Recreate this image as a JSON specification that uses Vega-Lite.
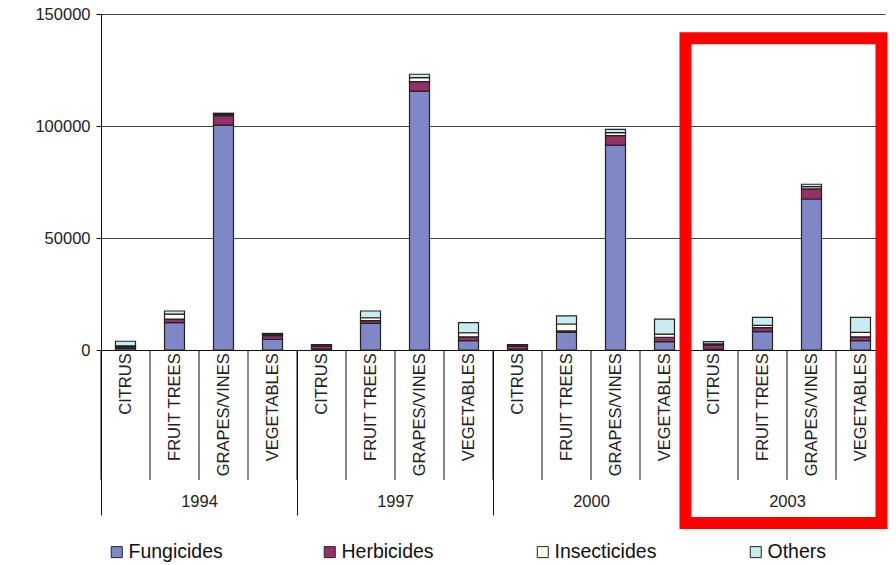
{
  "$schema": "https://vega.github.io/schema/vega-lite/v6.json",
  "autosize": {"type": "none"},
  "padding": {"left": 101, "top": 14, "right": 11, "bottom": 215},
  "width": 784,
  "height": 336,
  "config": {
    "font": "Liberation Sans",
    "view": {"stroke": null},
    "axis": {"labelFont": "Liberation Sans", "labelColor": "#222", "labelFontSize": 16.5}
  },
  "datasets": {
    "sales": [
      {"year": "1994", "crop": "CITRUS", "type": "Fungicides", "value": 700},
      {"year": "1994", "crop": "CITRUS", "type": "Herbicides", "value": 700},
      {"year": "1994", "crop": "CITRUS", "type": "Insecticides", "value": 500},
      {"year": "1994", "crop": "CITRUS", "type": "Others", "value": 2000},
      {"year": "1994", "crop": "FRUIT TREES", "type": "Fungicides", "value": 12200},
      {"year": "1994", "crop": "FRUIT TREES", "type": "Herbicides", "value": 1600},
      {"year": "1994", "crop": "FRUIT TREES", "type": "Insecticides", "value": 2200},
      {"year": "1994", "crop": "FRUIT TREES", "type": "Others", "value": 1400},
      {"year": "1994", "crop": "GRAPES/VINES", "type": "Fungicides", "value": 100400},
      {"year": "1994", "crop": "GRAPES/VINES", "type": "Herbicides", "value": 4200},
      {"year": "1994", "crop": "GRAPES/VINES", "type": "Insecticides", "value": 600},
      {"year": "1994", "crop": "GRAPES/VINES", "type": "Others", "value": 500},
      {"year": "1994", "crop": "VEGETABLES", "type": "Fungicides", "value": 4800},
      {"year": "1994", "crop": "VEGETABLES", "type": "Herbicides", "value": 1600},
      {"year": "1994", "crop": "VEGETABLES", "type": "Insecticides", "value": 600},
      {"year": "1994", "crop": "VEGETABLES", "type": "Others", "value": 400},
      {"year": "1997", "crop": "CITRUS", "type": "Fungicides", "value": 400},
      {"year": "1997", "crop": "CITRUS", "type": "Herbicides", "value": 1400},
      {"year": "1997", "crop": "CITRUS", "type": "Insecticides", "value": 300},
      {"year": "1997", "crop": "CITRUS", "type": "Others", "value": 300},
      {"year": "1997", "crop": "FRUIT TREES", "type": "Fungicides", "value": 11900},
      {"year": "1997", "crop": "FRUIT TREES", "type": "Herbicides", "value": 1200},
      {"year": "1997", "crop": "FRUIT TREES", "type": "Insecticides", "value": 1300},
      {"year": "1997", "crop": "FRUIT TREES", "type": "Others", "value": 3000},
      {"year": "1997", "crop": "GRAPES/VINES", "type": "Fungicides", "value": 115600},
      {"year": "1997", "crop": "GRAPES/VINES", "type": "Herbicides", "value": 4200},
      {"year": "1997", "crop": "GRAPES/VINES", "type": "Insecticides", "value": 1800},
      {"year": "1997", "crop": "GRAPES/VINES", "type": "Others", "value": 1500},
      {"year": "1997", "crop": "VEGETABLES", "type": "Fungicides", "value": 4200},
      {"year": "1997", "crop": "VEGETABLES", "type": "Herbicides", "value": 1700},
      {"year": "1997", "crop": "VEGETABLES", "type": "Insecticides", "value": 1800},
      {"year": "1997", "crop": "VEGETABLES", "type": "Others", "value": 4500},
      {"year": "2000", "crop": "CITRUS", "type": "Fungicides", "value": 300},
      {"year": "2000", "crop": "CITRUS", "type": "Herbicides", "value": 1500},
      {"year": "2000", "crop": "CITRUS", "type": "Insecticides", "value": 300},
      {"year": "2000", "crop": "CITRUS", "type": "Others", "value": 300},
      {"year": "2000", "crop": "FRUIT TREES", "type": "Fungicides", "value": 7900},
      {"year": "2000", "crop": "FRUIT TREES", "type": "Herbicides", "value": 600},
      {"year": "2000", "crop": "FRUIT TREES", "type": "Insecticides", "value": 3100},
      {"year": "2000", "crop": "FRUIT TREES", "type": "Others", "value": 3600},
      {"year": "2000", "crop": "GRAPES/VINES", "type": "Fungicides", "value": 91500},
      {"year": "2000", "crop": "GRAPES/VINES", "type": "Herbicides", "value": 4200},
      {"year": "2000", "crop": "GRAPES/VINES", "type": "Insecticides", "value": 1300},
      {"year": "2000", "crop": "GRAPES/VINES", "type": "Others", "value": 1500},
      {"year": "2000", "crop": "VEGETABLES", "type": "Fungicides", "value": 3700},
      {"year": "2000", "crop": "VEGETABLES", "type": "Herbicides", "value": 2000},
      {"year": "2000", "crop": "VEGETABLES", "type": "Insecticides", "value": 1400},
      {"year": "2000", "crop": "VEGETABLES", "type": "Others", "value": 6700},
      {"year": "2003", "crop": "CITRUS", "type": "Fungicides", "value": 300},
      {"year": "2003", "crop": "CITRUS", "type": "Herbicides", "value": 2000},
      {"year": "2003", "crop": "CITRUS", "type": "Insecticides", "value": 400},
      {"year": "2003", "crop": "CITRUS", "type": "Others", "value": 1000},
      {"year": "2003", "crop": "FRUIT TREES", "type": "Fungicides", "value": 8200},
      {"year": "2003", "crop": "FRUIT TREES", "type": "Herbicides", "value": 1800},
      {"year": "2003", "crop": "FRUIT TREES", "type": "Insecticides", "value": 1000},
      {"year": "2003", "crop": "FRUIT TREES", "type": "Others", "value": 3600},
      {"year": "2003", "crop": "GRAPES/VINES", "type": "Fungicides", "value": 67400},
      {"year": "2003", "crop": "GRAPES/VINES", "type": "Herbicides", "value": 4500},
      {"year": "2003", "crop": "GRAPES/VINES", "type": "Insecticides", "value": 1000},
      {"year": "2003", "crop": "GRAPES/VINES", "type": "Others", "value": 1100},
      {"year": "2003", "crop": "VEGETABLES", "type": "Fungicides", "value": 4200},
      {"year": "2003", "crop": "VEGETABLES", "type": "Herbicides", "value": 1700},
      {"year": "2003", "crop": "VEGETABLES", "type": "Insecticides", "value": 2000},
      {"year": "2003", "crop": "VEGETABLES", "type": "Others", "value": 6700}
    ],
    "highlight": [{"year": "2003"}]
  },
  "resolve": {"scale": {"xOffset": "independent"}},
  "layer": [
    {
      "data": {"name": "sales"},
      "mark": {"type": "bar", "width": 20, "stroke": "#222", "strokeWidth": 1.2},
      "encoding": {
        "x": {
          "field": "year", "type": "nominal",
          "scale": {"paddingInner": 0, "paddingOuter": 0},
          "axis": {
            "title": null, "labelAngle": 0, "tickBand": "extent", "tickSize": 165,
            "tickColor": "#111", "domainColor": "#111", "labelPadding": -22,
            "grid": false
          }
        },
        "xOffset": {"field": "crop", "type": "nominal", "scale": {"type": "band", "paddingInner": 0, "paddingOuter": 0}},
        "y": {
          "field": "value", "type": "quantitative", "stack": "zero",
          "scale": {"domain": [0, 150000], "nice": false},
          "axis": {
            "title": null, "values": [0, 50000, 100000, 150000], "format": "d",
            "tickSize": 5, "labelPadding": 6, "tickColor": "#111", "domainColor": "#111",
            "grid": true, "gridColor": "#444", "gridWidth": 1
          }
        },
        "color": {
          "field": "type", "type": "nominal",
          "scale": {
            "domain": ["Fungicides", "Herbicides", "Insecticides", "Others"],
            "range": ["#7F87C6", "#963068", "#FFFFEC", "#C8ECF2"]
          },
          "legend": {
            "title": null, "orient": "none", "legendX": 6, "legendY": 528,
            "direction": "horizontal", "columns": 4, "gridAlign": "all",
            "columnPadding": 89, "symbolType": "square", "symbolSize": 121,
            "symbolStrokeColor": "#222", "symbolStrokeWidth": 1,
            "labelFontSize": 19.5, "labelFont": "Liberation Sans", "labelColor": "#111",
            "labelOffset": 2, "padding": 0
          }
        },
        "order": {"field": "type"}
      }
    },
    {
      "data": {"name": "sales"},
      "transform": [{"filter": "datum.type == 'Fungicides'"}],
      "mark": {"type": "rule", "color": "#111", "strokeWidth": 1},
      "encoding": {
        "x": {"field": "year", "type": "nominal"},
        "xOffset": {
          "field": "crop", "type": "nominal",
          "scale": {"type": "band", "range": [-24.5, 171.5], "paddingInner": 0, "paddingOuter": 0}
        },
        "y": {"datum": 0},
        "y2": {"datum": -58000}
      }
    },
    {
      "data": {"name": "sales"},
      "transform": [{"filter": "datum.type == 'Fungicides'"}],
      "mark": {"type": "text", "angle": 270, "align": "right", "baseline": "middle", "fontSize": 16.5, "color": "#222"},
      "encoding": {
        "x": {"field": "year", "type": "nominal"},
        "xOffset": {"field": "crop", "type": "nominal", "scale": {"type": "band", "paddingInner": 0, "paddingOuter": 0}},
        "y": {"datum": -1500},
        "text": {"field": "crop"}
      }
    },
    {
      "data": {"name": "highlight"},
      "mark": {"type": "rect", "fillOpacity": 0, "stroke": "#FF0000", "strokeWidth": 12, "strokeJoin": "miter", "xOffset": -3.5, "x2Offset": 4.5},
      "encoding": {
        "x": {"field": "year", "type": "nominal"},
        "y": {"datum": 139150},
        "y2": {"datum": -77200}
      }
    }
  ]
}
